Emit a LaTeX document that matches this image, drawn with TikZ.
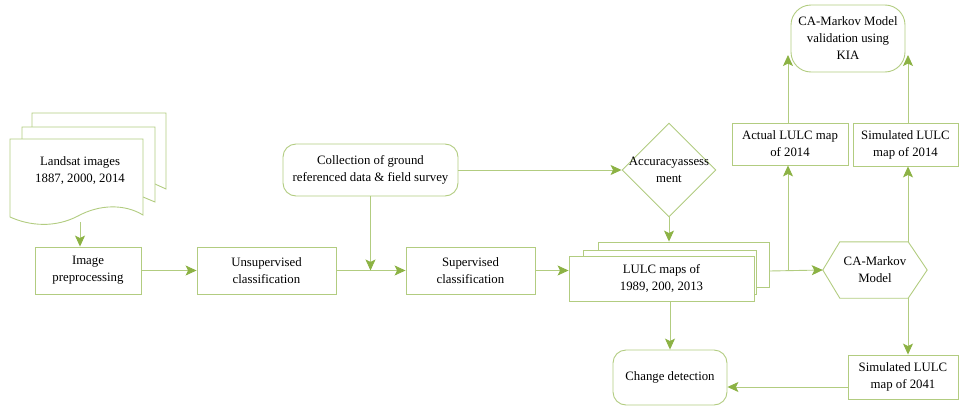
\documentclass[tikz,border=0pt]{standalone}
\usepackage{fontspec}
\setmainfont{Liberation Serif}
\usetikzlibrary{arrows.meta,shapes.geometric,calc}
\definecolor{lc}{RGB}{178,204,128}
\definecolor{ac}{RGB}{140,178,68}
\tikzset{
  every node/.style={font=\fontsize{12.8}{17}\selectfont, align=center, text=black},
  box/.style={draw=lc, line width=0.9pt, fill=white, inner sep=0pt},
  rbox/.style={box, rounded corners=13pt},
  conn/.style={draw=lc, line width=0.9pt, -{Stealth[length=11pt,width=10pt,inset=2.5pt,color=ac,fill=ac]}},
  plain/.style={draw=lc, line width=0.9pt},
}
\begin{document}
\begin{tikzpicture}[x=1pt,y=-1pt]
\useasboundingbox (0,0) rectangle (962,407);
% Landsat document stack
\draw[plain, fill=white] (32,127) -- (32,113) -- (166,113) -- (166,189) -- (155,184);
\draw[plain, fill=white] (22,139) -- (22,127) -- (155,127) -- (155,202) -- (143,197);
\draw[plain, fill=white] (10,139) -- (143,139) -- (143,215)
   .. controls (125,204) and (100,204) .. (78,216)
   .. controls (55,228) and (30,226) .. (10,217) -- cycle;
\node (lsat) at (80,171) {Landsat images\\1887, 2000, 2014};
\coordinate (docb) at (80,222);
% boxes
\node[box, minimum width=106pt, minimum height=47pt] (pre) at (88,270.5) {Image\\preprocessing};
\node[box, minimum width=139pt, minimum height=47pt] (uns) at (266.5,270.5) {Unsupervised\\classification};
\node[rbox, minimum width=175pt, minimum height=52pt] (col) at (370.5,170) {Collection of ground\\referenced data \& field survey};
\node[box, minimum width=129pt, minimum height=47pt] (sup) at (470.5,270.5) {Supervised\\classification};
\node[draw=lc, line width=0.9pt, diamond, minimum width=94pt, minimum height=94pt, inner sep=0pt, fill=white] (acc) at (669,170) {};
\node at (669,170) {Accuracyassess\\ment};
% LULC stack
\node[box, minimum width=171pt, minimum height=45pt] (lulcb) at (683.5,264.5) {};
\node[box, minimum width=173pt, minimum height=44pt] (lulcm) at (669.5,272) {};
\node[box, minimum width=185pt, minimum height=45pt] (lulc) at (661.5,278.5) {LULC maps of\\1989, 200, 2013};
% right side
\node[box, minimum width=116pt, minimum height=42pt] (act) at (790,144) {Actual LULC map\\of 2014};
\node[box, minimum width=105pt, minimum height=43pt] (sim14) at (905.5,144.5) {Simulated LULC\\map of 2014};
\node[rbox, rounded corners=20pt, minimum width=114pt, minimum height=67pt] (val) at (848,38.5) {CA-Markov Model\\validation using\\KIA};
\node[minimum width=104pt, minimum height=56pt, inner sep=0pt] (hex) at (875,270) {CA-Markov\\Model};
\draw[plain] (hex.west) -- ([xshift=17pt]hex.north west) -- ([xshift=-19pt]hex.north east) -- (hex.east)
  -- ([xshift=-19pt]hex.south east) -- ([xshift=17pt]hex.south west) -- cycle;
\node[box, minimum width=110pt, minimum height=44pt] (s41) at (903,377) {Simulated LULC\\map of 2041};
\node[rbox, minimum width=114pt, minimum height=55pt] (chg) at (670,377.5) {Change detection};
% helper coordinates
\coordinate (br) at (788,271);
\coordinate (hx) at (908,270);
\coordinate (vl) at (788,55);
\coordinate (vr) at (908,55);
% connectors
\draw[conn] (docb) -- (docb |- pre.north);
\draw[conn] (pre.east) -- (uns.west);
\draw[conn] (uns.east) -- (sup.west);
\draw[conn] (col.south) -- (col.south |- uns.east);
\draw[conn] (col.east) -- (acc.west);
\draw[conn] (acc.south) -- (acc.south |- lulcb.north);
\draw[conn] (sup.east) -- (lulc.west |- sup.east);
\draw[conn] (lulcb.east |- br) -- (hex.west);
\draw[conn] (br) -- (br |- act.south);
\draw[conn] (br |- act.north) -- (vl);
\draw[conn] (hx |- hex.north) -- (hx |- sim14.south);
\draw[conn] (hx |- sim14.north) -- (vr);
\draw[conn] (hx |- hex.south) -- (hx |- s41.north);
\draw[conn] (s41.west |- 0,387) -- (chg.east |- 0,387);
\draw[conn] (chg.north |- lulc.south) -- (chg.north);
\end{tikzpicture}
\end{document}
